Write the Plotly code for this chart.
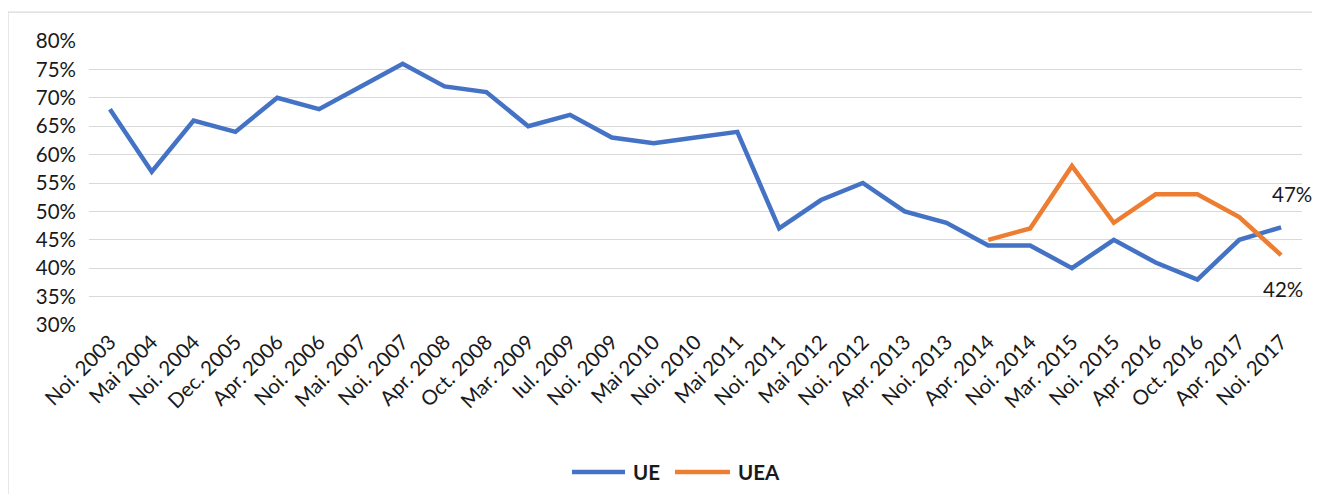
import plotly.graph_objects as go

categories = ["Noi. 2003", "Mai 2004", "Noi. 2004", "Dec. 2005", "Apr. 2006", "Noi. 2006",
              "Mai. 2007", "Noi. 2007", "Apr. 2008", "Oct. 2008", "Mar. 2009", "Iul. 2009",
              "Noi. 2009", "Mai 2010", "Noi. 2010", "Mai 2011", "Noi. 2011", "Mai 2012",
              "Noi. 2012", "Apr. 2013", "Noi. 2013", "Apr. 2014", "Noi. 2014", "Mar. 2015",
              "Noi. 2015", "Apr. 2016", "Oct. 2016", "Apr. 2017", "Noi. 2017"]
ue = [68, 57, 66, 64, 70, 68, 72, 76, 72, 71, 65, 67, 63, 62, 63, 64, 47, 52, 55, 50,
      48, 44, 44, 40, 45, 41, 38, 45, 47.2]
uea_categories = categories[21:]
uea = [45, 47, 58, 48, 53, 53, 49, 42.3]
y_ticks = [30, 35, 40, 45, 50, 55, 60, 65, 70, 75, 80]

FONT = "Lato, 'Open Sans', sans-serif"
TXT = "#1a1a1a"
BLUE = "#4472C4"
ORANGE = "#ED7D31"

fig = go.Figure()
fig.add_trace(go.Scatter(x=categories, y=ue, mode="lines", name="UE", showlegend=False,
                         line=dict(color=BLUE, width=4.5)))
fig.add_trace(go.Scatter(x=uea_categories, y=uea, mode="lines", name="UEA", showlegend=False,
                         line=dict(color=ORANGE, width=4.5)))

fig.add_annotation(x=categories[-1], y=ue[-1], text=f"{ue[-1]:.0f}%", showarrow=False,
                   xshift=11, yshift=33, font=dict(size=20.5, color=TXT, family=FONT))
fig.add_annotation(x=uea_categories[-1], y=uea[-1], text=f"{uea[-1]:.0f}%", showarrow=False,
                   xshift=2, yshift=-34, font=dict(size=20.5, color=TXT, family=FONT))

# chart border
fig.add_shape(type="rect", xref="paper", yref="paper", x0=-0.0668, x1=1.2, y0=-1.0, y1=1.102,
              line=dict(color="#D9D9D9", width=1.3), layer="below")

# manual legend (long line keys, as in the original)
leg_y = -0.5176
for name, color, x0, x1, xt in [("UE", BLUE, 0.3982, 0.4419, 0.4465),
                                ("UEA", ORANGE, 0.4831, 0.5284, 0.5330)]:
    fig.add_shape(type="line", xref="paper", yref="paper", x0=x0, x1=x1, y0=leg_y, y1=leg_y,
                  line=dict(color=color, width=4.5))
    fig.add_annotation(xref="paper", yref="paper", x=xt, y=leg_y, text=f"<b>{name}</b>",
                       showarrow=False, xanchor="left", yanchor="middle",
                       font=dict(size=20.5, color=TXT, family=FONT))

fig.update_layout(
    width=1304, height=486,
    margin=dict(l=81, r=10, t=33, b=169),
    paper_bgcolor="white", plot_bgcolor="white",
    font=dict(family=FONT, size=20.5, color=TXT),
    showlegend=False,
    xaxis=dict(type="category", range=[-0.5, len(categories) - 0.5], tickangle=-45,
               showgrid=False, showline=False, ticks="", tickfont=dict(size=20.5),
               automargin=False),
    yaxis=dict(range=[30, 80], tickvals=y_ticks, ticktext=[f"{v}%" for v in y_ticks],
               showgrid=True, gridcolor="#D9D9D9", gridwidth=1.3, zeroline=False,
               ticks="", tickfont=dict(size=20.5), automargin=False, ticklabelstandoff=12),
)

fig.write_html("out.html")
